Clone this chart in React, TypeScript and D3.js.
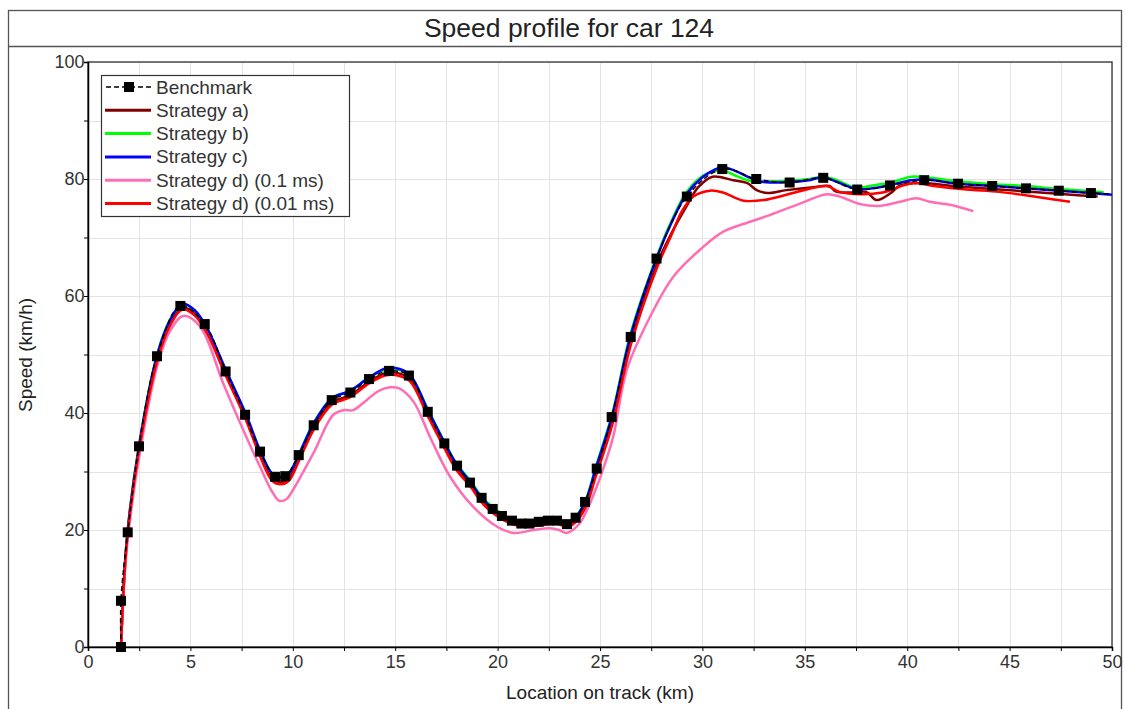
import React, { useEffect, useRef } from 'react'
import * as d3 from 'd3'

// speed profile values, [km, km/h]
const benchmark: [number, number][] = [
  [1.61, 0], [1.61, 7.9], [1.94, 19.6], [2.49, 34.3], [3.37, 49.7], [4.51, 58.3], [5.70, 55.2],
  [6.72, 47.1], [7.67, 39.7], [8.40, 33.4], [9.13, 29.1], [9.63, 29.2], [10.29, 32.8], [11.02, 37.9],
  [11.90, 42.2], [12.81, 43.5], [13.72, 45.8], [14.70, 47.2], [15.67, 46.4], [16.59, 40.2],
  [17.40, 34.8], [18.02, 31.0], [18.65, 28.1], [19.22, 25.5], [19.76, 23.6], [20.21, 22.4],
  [20.70, 21.6], [21.16, 21.1], [21.55, 21.1], [22.01, 21.4], [22.45, 21.6], [22.90, 21.6],
  [23.39, 21.0], [23.81, 22.1], [24.27, 24.8], [24.84, 30.5], [25.57, 39.3], [26.50, 53.0],
  [27.76, 66.4], [29.24, 77.0], [30.97, 81.7], [32.63, 80.0], [34.26, 79.4], [35.90, 80.2],
  [37.56, 78.2], [39.16, 78.9], [40.83, 79.8], [42.48, 79.2], [44.15, 78.8], [45.80, 78.4],
  [47.40, 78.0], [48.97, 77.6]
]
const benchmarkTail: [number, number] = [50, 77.4]

const strategyA: [number, number][] = [
  [1.61, 0], [1.9, 18.2], [2.5, 34.0], [3.4, 49.6], [4.0, 55.2], [4.6, 58.0], [5.2, 57.0], [5.8, 54.0],
  [6.7, 46.9], [7.7, 39.2], [8.4, 32.9], [9.0, 28.8], [9.4, 28.2], [9.8, 28.8], [10.3, 32.2], [11.0, 37.4],
  [11.9, 41.8], [12.8, 43.0], [13.7, 45.3], [14.5, 46.8], [15.0, 46.9], [15.7, 45.9], [16.6, 39.8],
  [17.4, 34.4], [18.0, 30.6], [18.7, 27.6], [19.2, 25.1], [19.8, 23.1], [20.7, 21.2], [21.5, 20.8],
  [22.4, 21.2], [22.9, 21.3], [23.4, 20.7], [23.8, 21.6], [24.3, 24.2], [24.8, 29.6], [25.6, 38.4],
  [26.5, 52.0], [27.8, 65.6], [28.5, 70.8], [29.2, 75.2], [29.8, 78.6], [30.5, 80.4], [31.5, 79.8],
  [32.2, 79.3], [32.65, 78.1], [33.2, 77.6], [34.1, 78.1], [35.4, 78.6], [36.2, 78.8], [36.5, 77.9],
  [37.2, 77.7], [38.0, 77.8], [38.5, 76.4], [39.2, 77.6], [39.6, 78.8], [40.6, 79.3], [42.5, 78.7],
  [44.5, 78.2], [46.5, 77.7], [48.5, 77.2], [49.3, 77.0]
]

const strategyB: [number, number][] = [
  [1.61, 0], [1.9, 18.6], [2.5, 34.7], [3.4, 50.3], [4.0, 55.9], [4.6, 58.6], [5.2, 57.5], [5.8, 54.5],
  [6.7, 47.5], [7.7, 39.8], [8.4, 33.6], [9.0, 29.6], [9.4, 29.1], [9.8, 29.7], [10.3, 33.0], [11.0, 38.2],
  [11.9, 42.5], [12.8, 43.8], [13.7, 46.0], [14.5, 47.4], [15.0, 47.5], [15.7, 46.5], [16.6, 40.5],
  [17.4, 35.1], [18.0, 31.3], [18.7, 28.3], [19.2, 25.8], [19.8, 23.8], [20.7, 21.8], [21.5, 21.3],
  [22.4, 21.7], [22.9, 21.7], [23.4, 21.1], [23.8, 22.2], [24.3, 25.1], [24.8, 30.8], [25.6, 39.9],
  [26.5, 53.6], [27.8, 67.0], [28.5, 72.9], [29.2, 77.6], [30.0, 80.5], [30.6, 81.3], [31.0, 81.5],
  [31.6, 80.6], [32.2, 79.8], [32.7, 79.5], [33.3, 79.6], [34.3, 79.7], [35.2, 80.0], [35.9, 80.4],
  [36.5, 79.9], [37.5, 78.5], [38.3, 78.9], [39.2, 79.4], [40.2, 80.4], [40.9, 80.3], [42.5, 79.6],
  [44.2, 79.1], [45.8, 78.8], [47.4, 78.3], [49.0, 77.9], [49.6, 77.7]
]

const strategyC: [number, number][] = [
  [1.61, 0], [1.9, 18.5], [2.5, 34.6], [3.4, 50.2], [4.0, 55.8], [4.6, 58.7], [5.2, 57.6], [5.8, 54.6],
  [6.7, 47.6], [7.7, 39.9], [8.4, 33.6], [9.0, 29.6], [9.4, 29.0], [9.8, 29.6], [10.3, 32.9], [11.0, 38.1],
  [11.9, 42.5], [12.8, 43.8], [13.7, 46.0], [14.5, 47.6], [15.0, 47.7], [15.7, 46.6], [16.6, 40.5],
  [17.4, 35.0], [18.0, 31.2], [18.7, 28.1], [19.2, 25.6], [19.8, 23.6], [20.7, 21.6], [21.5, 21.1],
  [22.4, 21.6], [22.9, 21.6], [23.4, 21.0], [23.8, 22.1], [24.3, 25.0], [24.8, 30.6], [25.6, 39.6],
  [26.5, 53.3], [27.8, 66.8], [28.5, 72.6], [29.2, 77.3], [30.0, 80.3], [30.6, 81.6], [31.0, 82.0],
  [31.6, 81.4], [32.2, 80.4], [32.7, 79.7], [33.3, 79.4], [34.3, 79.5], [35.2, 79.8], [35.9, 80.3],
  [36.5, 79.6], [37.5, 78.3], [38.3, 78.4], [39.2, 79.0], [40.2, 79.8], [40.9, 79.9], [42.5, 79.2],
  [44.2, 78.8], [45.8, 78.4], [47.4, 78.0], [49.0, 77.6], [50.0, 77.3]
]

const strategyD01: [number, number][] = [
  [1.61, 0], [1.9, 17.0], [2.5, 32.5], [3.37, 47.9], [4.0, 54.0], [4.65, 56.6], [5.47, 54.8], [6.6, 45.1],
  [7.58, 37.1], [8.4, 30.8], [9.0, 26.5], [9.33, 25.0], [9.7, 25.3], [10.0, 26.8], [11.0, 33.1],
  [11.98, 39.7], [12.5, 40.5], [12.95, 40.5], [13.6, 42.2], [14.2, 43.8], [14.75, 44.4], [15.2, 44.2],
  [15.9, 41.9], [16.7, 35.9], [17.68, 29.1], [18.8, 24.0], [19.96, 20.6], [20.77, 19.5], [21.75, 20.0],
  [22.56, 20.3], [23.0, 20.0], [23.37, 19.5], [24.0, 21.1], [24.84, 27.4], [25.16, 30.5], [25.65, 36.0],
  [26.3, 47.3], [27.28, 55.3], [28.58, 63.3], [30.04, 68.4], [31.02, 71.0], [32.0, 72.3], [33.1, 73.6],
  [34.77, 75.8], [36.07, 77.4], [36.7, 77.0], [37.7, 75.7], [38.67, 75.4], [39.65, 76.1], [40.46, 76.7],
  [41.1, 76.1], [42.1, 75.6], [43.23, 74.5]
]

const strategyD001: [number, number][] = [
  [1.61, 0], [1.9, 18.0], [2.5, 33.8], [3.4, 49.2], [4.0, 54.9], [4.6, 57.7], [5.2, 56.7], [5.8, 53.7],
  [6.7, 46.6], [7.7, 38.9], [8.4, 32.6], [9.0, 28.4], [9.4, 27.8], [9.8, 28.4], [10.3, 31.8], [11.0, 37.0],
  [11.9, 41.4], [12.8, 42.7], [13.7, 45.0], [14.5, 46.4], [15.0, 46.5], [15.7, 45.5], [16.6, 39.4],
  [17.4, 34.0], [18.0, 30.2], [18.7, 27.3], [19.2, 24.8], [19.8, 22.8], [20.7, 21.0], [21.5, 20.6],
  [22.4, 21.0], [22.9, 21.1], [23.4, 20.5], [23.8, 21.3], [24.3, 23.9], [24.8, 29.2], [25.6, 38.0],
  [26.5, 51.6], [27.8, 65.0], [28.5, 70.5], [29.0, 74.5], [29.56, 77.0], [30.37, 78.0], [31.0, 77.7],
  [32.0, 76.3], [33.0, 76.4], [34.1, 77.3], [35.1, 78.2], [36.07, 78.8], [36.7, 77.8], [37.7, 77.4],
  [38.8, 77.7], [40.3, 79.3], [41.3, 78.8], [42.9, 78.2], [44.5, 77.8], [46.2, 77.0], [47.95, 76.1]
]

const seriesNames = ['Benchmark', 'Strategy a)', 'Strategy b)', 'Strategy c)', 'Strategy d) (0.1 ms)', 'Strategy d) (0.01 ms)']
const seriesColors = ['#000000', '#800000', '#00ff00', '#0000ff', '#ff6eb4', '#ff0000']
const xTicks = [0, 5, 10, 15, 20, 25, 30, 35, 40, 45, 50]
const yTicks = [0, 20, 40, 60, 80, 100]

const W = 1125, H = 709
const FONT = '"Liberation Sans", Arial, sans-serif'

export default function App() {
  const ref = useRef<SVGSVGElement>(null)

  useEffect(() => {
    const svg = d3.select(ref.current)
    svg.selectAll('*').remove()

    const margin = { left: 88, top: 62, right: 1112, bottom: 647 }
    const x = d3.scaleLinear().domain([0, 50]).range([margin.left, margin.right])
    const y = d3.scaleLinear().domain([0, 100]).range([margin.bottom, margin.top])

    svg.append('rect').attr('width', W).attr('height', H).attr('fill', '#fff')

    // outer frame + title bar
    svg.append('rect')
      .attr('x', 8.5).attr('y', 10.5).attr('width', 1113).attr('height', 720)
      .attr('fill', 'none').attr('stroke', '#555').attr('stroke-width', 1.3)
    svg.append('line')
      .attr('x1', 8.5).attr('x2', 1121.5).attr('y1', 46.5).attr('y2', 46.5)
      .attr('stroke', '#555').attr('stroke-width', 1.3)
    svg.append('text')
      .attr('x', 569).attr('y', 37)
      .attr('text-anchor', 'middle')
      .attr('font-family', FONT).attr('font-size', 26.5).attr('fill', '#222')
      .text('Speed profile for car 124')

    // grid
    const grid = svg.append('g').attr('stroke', '#e3e3e3').attr('stroke-width', 1)
    d3.range(0, 50.01, 2.5).forEach(v => {
      grid.append('line').attr('x1', Math.round(x(v)) + 0.5).attr('x2', Math.round(x(v)) + 0.5)
        .attr('y1', margin.top).attr('y2', margin.bottom)
    })
    d3.range(0, 100.01, 10).forEach(v => {
      grid.append('line').attr('y1', Math.round(y(v)) + 0.5).attr('y2', Math.round(y(v)) + 0.5)
        .attr('x1', margin.left).attr('x2', margin.right)
    })

    // plot frame
    svg.append('rect')
      .attr('x', margin.left).attr('y', margin.top)
      .attr('width', margin.right - margin.left).attr('height', margin.bottom - margin.top)
      .attr('fill', 'none').attr('stroke', '#333').attr('stroke-width', 1.3)

    // axes
    const xAxis = d3.axisBottom(x).tickValues(d3.range(0, 50.01, 2.5)).tickSize(4)
      .tickFormat((d: any) => (xTicks.includes(+d) ? String(d) : ''))
    const gx = svg.append('g').attr('transform', `translate(0,${margin.bottom})`).call(xAxis)
    gx.select('.domain').attr('stroke', '#000').attr('stroke-width', 1.5)
    gx.selectAll('text').attr('font-family', FONT).attr('font-size', 18).attr('fill', '#333').attr('dy', '0.75em')

    const yAxis = d3.axisLeft(y).tickValues(d3.range(0, 100.01, 10)).tickSize(4)
      .tickFormat((d: any) => (yTicks.includes(+d) ? String(d) : ''))
    const gy = svg.append('g').attr('transform', `translate(${margin.left},0)`).call(yAxis)
    gy.select('.domain').attr('stroke', '#000').attr('stroke-width', 1.5)
    gy.selectAll('text').attr('font-family', FONT).attr('font-size', 18).attr('fill', '#333').attr('dx', '0.2em')

    svg.append('text')
      .attr('x', 600).attr('y', 699).attr('text-anchor', 'middle')
      .attr('font-family', FONT).attr('font-size', 19).attr('fill', '#222')
      .text('Location on track (km)')
    svg.append('text')
      .attr('transform', 'translate(32,355) rotate(-90)').attr('text-anchor', 'middle')
      .attr('font-family', FONT).attr('font-size', 19).attr('fill', '#222')
      .text('Speed (km/h)')

    // lines
    const line = d3.line<[number, number]>()
      .x(d => x(d[0])).y(d => y(d[1]))
      .curve(d3.curveCatmullRom.alpha(0.5))

    const plot = svg.append('g')
    const strategies = [strategyA, strategyB, strategyC, strategyD01, strategyD001]
    strategies.forEach((s, i) => {
      plot.append('path').datum(s)
        .attr('d', line).attr('fill', 'none')
        .attr('stroke', seriesColors[i + 1]).attr('stroke-width', 2.5)
    })

    plot.append('path').datum([...benchmark, benchmarkTail])
      .attr('d', line).attr('fill', 'none')
      .attr('stroke', '#000').attr('stroke-width', 1.5).attr('stroke-dasharray', '5,3')

    plot.selectAll('.marker').data(benchmark).enter().append('rect')
      .attr('class', 'marker')
      .attr('x', d => x(d[0]) - 5).attr('y', d => y(d[1]) - 5)
      .attr('width', 10).attr('height', 10).attr('fill', '#000')

    // legend
    const lg = svg.append('g').attr('transform', 'translate(101,75)')
    lg.append('rect').attr('x', 0.5).attr('y', 0.5).attr('width', 248).attr('height', 141)
      .attr('fill', '#fff').attr('stroke', '#333').attr('stroke-width', 1.2)
    seriesNames.forEach((name, i) => {
      const cy = 12 + i * 23.3
      if (i === 0) {
        lg.append('line').attr('x1', 5).attr('x2', 50).attr('y1', cy).attr('y2', cy)
          .attr('stroke', '#000').attr('stroke-width', 1.5).attr('stroke-dasharray', '5,3')
        lg.append('rect').attr('x', 23).attr('y', cy - 5).attr('width', 10).attr('height', 10).attr('fill', '#000')
      } else {
        lg.append('line').attr('x1', 4).attr('x2', 50).attr('y1', cy).attr('y2', cy)
          .attr('stroke', seriesColors[i]).attr('stroke-width', 3)
      }
      lg.append('text').attr('x', 55).attr('y', cy + 6.5)
        .attr('font-family', FONT).attr('font-size', 19).attr('fill', '#333')
        .text(name)
    })
  }, [])

  return (
    <svg ref={ref} width={W} height={H} style={{ position: 'absolute', left: 0, top: 0 }} />
  )
}
